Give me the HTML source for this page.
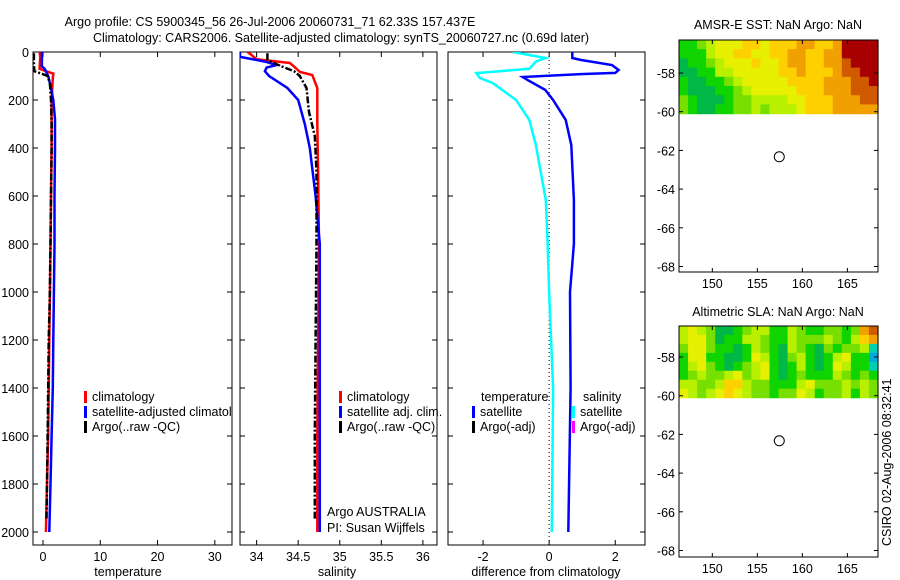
<!DOCTYPE html>
<html><head><meta charset="utf-8">
<style>
html,body{margin:0;padding:0;background:#fff;}
svg{display:block;font-family:"Liberation Sans",sans-serif;}
text{font-size:12.5px;fill:#000;}
</style></head>
<body>
<svg id="fig" width="900" height="580" viewBox="0 0 900 580">
<text x="270" y="26" text-anchor="middle">Argo profile: CS 5900345_56 26-Jul-2006 20060731_71 62.33S 157.437E</text>
<text x="341" y="42" text-anchor="middle">Climatology: CARS2006. Satellite-adjusted climatology: synTS_20060727.nc (0.69d later)</text>
<text x="778" y="29" text-anchor="middle">AMSR-E SST: NaN Argo: NaN</text>
<text x="778" y="316" text-anchor="middle">Altimetric SLA: NaN Argo: NaN</text>
<text transform="translate(891,546) rotate(-90)">CSIRO 02-Aug-2006 08:32:41</text>
<g id="layer"></g>
</svg>
<script>
// ---- profile data (depth in m) ----
const tClimD=[0,20,70,80,90,110,200,400,600,800,1000,1200,1400,1600,1800,2000];
const tClim=[-0.6,-0.5,-0.6,0.5,1.8,1.7,1.5,1.5,1.4,1.3,1.2,1.1,1.0,0.9,0.7,0.5];
const tSatD=[0,60,70,100,150,200,280,400,600,800,1000,1200,1400,1600,1800,2000];
const tSat=[-0.2,-0.2,0.3,0.9,1.4,1.8,2.1,2.1,2.0,2.0,1.9,1.8,1.7,1.5,1.3,1.1];
const tArgoD=[5,50,80,90,100,130,200,300,400,600,800,1000,1200,1400,1600,1800,1950];
const tArgo=[-1.6,-1.6,-1.5,-0.3,0.8,1.2,1.4,1.5,1.5,1.4,1.3,1.2,1.0,0.9,0.8,0.7,0.6];
const sClimD=[0,10,30,46,60,83,96,150,300,500,800,1200,1600,2000];
const sClim=[33.89,33.93,34.0,34.4,34.45,34.52,34.67,34.73,34.73,34.74,34.75,34.74,34.73,34.73];
const sSatD=[0,20,40,54,65,80,100,150,200,300,400,600,800,1200,1600,2000];
const sSat=[33.8,33.8,34.1,34.24,34.12,34.1,34.15,34.37,34.5,34.58,34.64,34.71,34.76,34.76,34.76,34.76];
const sArgoD=[5,30,45,60,80,100,150,250,350,500,800,1200,1600,1950];
const sArgo=[34.13,34.13,34.2,34.3,34.45,34.52,34.6,34.63,34.7,34.72,34.72,34.71,34.7,34.7];
const dTD=[0,25,33,54,75,87,92,104,117,158,200,283,388,617,800,1000,1400,2000];
const dT=[0.7,0.7,0.95,1.9,2.1,2.0,0.95,-0.8,-0.65,-0.12,0.12,0.5,0.67,0.75,0.75,0.63,0.65,0.58];
const dSD=[0,25,40,70,88,108,130,160,200,283,388,617,783,1000,1400,2000];
const dS=[-1.1,-0.1,-0.4,-0.6,-2.2,-2.1,-1.7,-1.4,-1.0,-0.6,-0.4,-0.1,-0.05,0,0.12,0.08];
const depthTicks=[0,200,400,600,800,1000,1200,1400,1600,1800,2000];
const tTicks=[0,10,20,30];
const sTicks=[34,34.5,35,35.5,36];
const sTickLabels=["34","34.5","35","35.5","36"];
const dTicks=[-2,0,2];
const latTicks=[-58,-60,-62,-64,-66,-68];
const lonTicks=[150,155,160,165];
const floatLon=157.437, floatLat=-62.33;
// ---- map grids (colour class 0..10), 8 rows x 22 cols ----
const sstGrid=[
[3,3,4,5,6,6,6,7,7,6,7,7,7,8,8,7,7,8,10,10,10,10],
[3,3,3,5,6,6,7,7,6,6,7,7,8,8,7,7,8,8,10,10,10,10],
[2,3,3,4,5,6,6,6,7,6,6,7,8,8,7,7,8,8,9,10,10,10],
[2,2,3,3,5,5,6,6,6,6,6,7,7,8,7,7,7,8,9,9,10,10],
[3,2,2,3,3,4,5,6,6,6,6,6,7,7,7,7,8,8,8,9,9,10],
[3,2,2,2,3,3,4,5,6,6,6,6,6,7,7,7,8,8,8,9,9,9],
[4,3,2,2,2,3,4,4,5,5,5,5,6,6,7,7,7,8,8,8,9,9],
[4,3,2,2,3,3,4,4,5,4,5,5,5,6,7,7,7,8,8,8,8,8]];
const slaGrid=[
[5,6,5,4,2,2,3,4,5,5,3,3,5,4,3,3,4,4,3,4,8,9],
[5,6,6,4,2,3,3,5,5,4,3,3,5,4,4,4,5,4,3,5,7,8],
[4,6,6,4,3,3,2,3,5,4,3,2,5,4,3,2,4,3,4,4,5,1],
[3,6,6,3,3,2,2,3,6,5,3,2,4,5,3,2,3,5,6,3,3,0],
[3,5,6,4,3,2,3,4,5,6,3,2,3,5,3,2,3,6,5,3,3,1],
[3,4,5,4,4,5,6,4,5,6,3,2,3,4,3,3,3,5,4,3,4,3],
[5,5,4,4,5,7,7,5,4,4,3,3,3,5,6,4,4,4,5,4,5,4],
[6,5,4,5,6,7,6,5,4,4,3,4,4,6,5,3,4,4,5,3,5,4]];
const palette=["#00a8e0","#00d0b0","#00b848","#10d400","#78e000","#b8f000","#e6f000","#ffd000","#f0a000","#d05a00","#a80000"];

const NS="http://www.w3.org/2000/svg";
const layer=document.getElementById('layer');
function mk(tag,attrs,parent){const e=document.createElementNS(NS,tag);for(const k in attrs)e.setAttribute(k,attrs[k]);(parent||layer).appendChild(e);return e;}
function txt(x,y,s,anchor,parent){const t=mk('text',{x:x,y:y,'text-anchor':anchor||'start'},parent);t.textContent=s;return t;}

const panelTop=52,panelBot=545;
const yD=d=>52+d*0.24;
function panel(name,x0,x1,xmin,xmax){
  const g=mk('g',{});
  
  
  const sx=v=>x0+(v-xmin)/(xmax-xmin)*(x1-x0);
  mk('rect',{x:x0,y:panelTop,width:x1-x0,height:panelBot-panelTop,fill:'#fff',stroke:'#000','stroke-width':1},g);
  return {g,sx};
}
function ticksY(p,x0,x1,withLabels){
  depthTicks.forEach(d=>{const y=yD(d);
    mk('line',{x1:x0,y1:y,x2:x0+5,y2:y,stroke:'#000'},p.g);
    mk('line',{x1:x1,y1:y,x2:x1-5,y2:y,stroke:'#000'},p.g);
    if(withLabels){const t=txt(x0-4,y+5,String(d),'end',p.g);
      
      }
  });
}
function ticksX(p,ticks,labels,title,cx){
  ticks.forEach((v,i)=>{const x=p.sx(v);
    mk('line',{x1:x,y1:panelBot,x2:x,y2:panelBot-5,stroke:'#000'},p.g);
    mk('line',{x1:x,y1:panelTop,x2:x,y2:panelTop+5,stroke:'#000'},p.g);
    const t=txt(x,561,labels[i],'middle',p.g);
    
    
  });
  const t=txt(cx,576,title,'middle',p.g);
  
  
}
function line(p,vals,depths,color,name,dash){
  const pts=vals.map((v,i)=>p.sx(v).toFixed(1)+','+yD(depths[i]).toFixed(1)).join(' ');
  const a={points:pts,fill:'none',stroke:color,'stroke-width':2.5,'clip-path':'url(#c'+name.split('-')[0]+')'};
  if(dash)a['stroke-dasharray']=dash;
  const l=mk('polyline',a,p.g);
  
  
}
function legend(p,x,y,color,label){
  const r=mk('rect',{x:x,y:y-10,width:3,height:12,fill:color},p.g);
  
  
  const t=txt(x+8,y,label,'start',p.g);
  
  
}
const defs=mk('defs',{});
[['temp',33,232],['sal',240,437],['diff',448,645]].forEach(([n,a,b])=>{const c=mk('clipPath',{id:'c'+n},defs);mk('rect',{x:a,y:panelTop,width:b-a,height:panelBot-panelTop},c);});

// Panel 1: temperature
const p1=panel('temperature-panel',33,232,-1.75,33);
ticksY(p1,33,232,true);
ticksX(p1,tTicks,tTicks.map(String),'temperature',128);
line(p1,tClim,tClimD,'#ff0000','temp-climatology-line');
line(p1,tSat,tSatD,'#0000ff','temp-satellite-line');
line(p1,tArgo,tArgoD,'#000000','temp-argo-line','7,2,2,2');
legend(p1,84,401,'#ff0000','climatology');
legend(p1,84,416,'#0000ff','satellite-adjusted climatology');
legend(p1,84,431,'#000000','Argo(..raw -QC)');
mk('rect',{x:232.5,y:380,width:7,height:60,fill:'#fff'});

// Panel 2: salinity
const p2=panel('salinity-panel',240,437,33.8,36.17);
ticksY(p2,240,437,false);
ticksX(p2,sTicks,sTickLabels,'salinity',337);
line(p2,sClim,sClimD,'#ff0000','sal-climatology-line');
line(p2,sSat,sSatD,'#0000ff','sal-satellite-line');
line(p2,sArgo,sArgoD,'#000000','sal-argo-line','7,2,2,2');
legend(p2,339,401,'#ff0000','climatology');
legend(p2,339,416,'#0000ff','satellite adj. clim.');
legend(p2,339,431,'#000000','Argo(..raw -QC)');
let t=txt(327,516,'Argo AUSTRALIA','start',p2.g);


t=txt(327,532,'PI: Susan Wijffels','start',p2.g);



// Panel 3: difference
const p3=panel('difference-panel',448,645,-3.06,2.9);
ticksY(p3,448,645,false);
ticksX(p3,dTicks,dTicks.map(String),'difference from climatology',546);
const zl=mk('line',{x1:p3.sx(0),y1:panelTop,x2:p3.sx(0),y2:panelBot,stroke:'#000','stroke-dasharray':'1,3'},p3.g);


line(p3,dS,dSD,'#00ffff','diff-salinity-satellite-line');
line(p3,dT,dTD,'#0000ff','diff-temperature-satellite-line');
t=txt(481,401,'temperature','start',p3.g);


t=txt(583,401,'salinity','start',p3.g);


legend(p3,472,416,'#0000ff','satellite');
legend(p3,472,431,'#000000','Argo(-adj)');
legend(p3,572,416,'#00ffff','satellite');
legend(p3,572,431,'#ff00ff','Argo(-adj)');

// Maps
function map(name,x0,y0,y1,grid,lat58y){
  const g=mk('g',{});
  
  
  const lonMin=146.3,lonMax=168.4,x1=878;
  const sx=v=>x0+(v-lonMin)/(lonMax-lonMin)*(x1-x0);
  const sy=v=>lat58y+(-58-v)*19.35;
  const latCut=-60.1;
  const rows=grid.length, cols=grid[0].length;
  const cw=(x1-x0)/cols, ch=(sy(latCut)-y0)/rows;
  grid.forEach((row,r)=>row.forEach((v,c)=>{
    const cell=mk('rect',{x:(x0+c*cw).toFixed(2),y:(y0+r*ch).toFixed(2),width:(cw+0.6).toFixed(2),height:(ch+0.6).toFixed(2),fill:palette[v]},g);
    
    
  }));
  mk('rect',{x:x0,y:y0,width:x1-x0,height:y1-y0,fill:'none',stroke:'#000'},g);
  latTicks.forEach(v=>{const y=sy(v);
    mk('line',{x1:x0,y1:y,x2:x0+4,y2:y,stroke:'#000'},g);
    mk('line',{x1:x1,y1:y,x2:x1-4,y2:y,stroke:'#000'},g);
    const tt=txt(x0-4,y+5,String(v),'end',g);
    
    
  });
  lonTicks.forEach(v=>{const x=sx(v);
    mk('line',{x1:x,y1:y1,x2:x,y2:y1-4,stroke:'#000'},g);
    mk('line',{x1:x,y1:y0,x2:x,y2:y0+4,stroke:'#000'},g);
    const tt=txt(x,y1+16,String(v),'middle',g);
    
    
  });
  const c=mk('circle',{cx:sx(floatLon),cy:sy(floatLat),r:5,fill:'none',stroke:'#000'},g);
  
  
}
map('sst-map',679,40,272,sstGrid,73);
map('sla-map',679,326,557,slaGrid,357);
</script>
</body></html>
